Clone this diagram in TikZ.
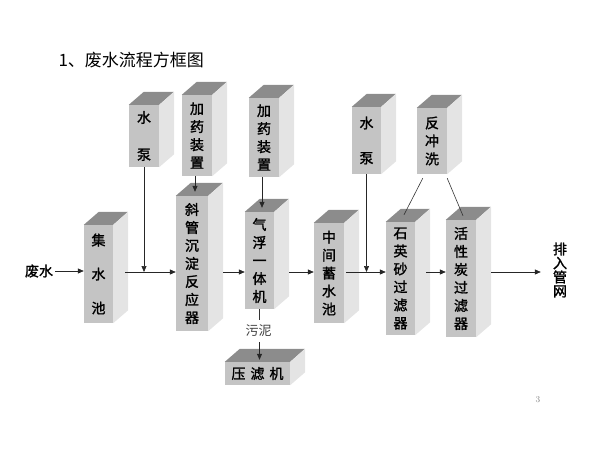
\documentclass[tikz,border=0pt]{standalone}
\usepackage{fontspec}
\newfontfamily\cjk{Noto Sans CJK SC}
\newfontfamily\cjkb{Noto Sans CJK SC}[FakeBold=1.5]
\usetikzlibrary{arrows.meta,calc}

\definecolor{frontc}{RGB}{196,196,196}
\definecolor{topc}{RGB}{140,140,140}
\definecolor{sidec}{RGB}{228,228,228}

\tikzset{
  face/.style={fill=frontc, inner sep=0pt, align=center, font=\cjkb\fontsize{14}{18}\selectfont},
  arr/.style={-{Triangle[length=6pt,width=5pt]}, line width=0.7pt, draw=black!85},
  link/.style={line width=0.6pt, draw=black!80},
}

% box: name, x, y, width, height, text
\newcommand{\blockbox}[6]{%
  \node[face, minimum width=#4pt, minimum height=#5pt] (#1) at (#2,#3) {#6};
  \fill[topc] (#1.north west) -- ++(15,-13) -- ++(#4,0) -- (#1.north east) -- cycle;
  \fill[sidec] (#1.north east) -- ++(15,-13) -- ($(#1.south east)+(15,-13)$) -- (#1.south east) -- cycle;
}

\begin{document}
\begin{tikzpicture}[x=1pt,y=-1pt]
\useasboundingbox (0,0) rectangle (600,450);
\node[font=\cjk\fontsize{17}{20}\selectfont, anchor=west] (title) at (55,60) {1、废水流程方框图};

% boxes
\blockbox{pool}{98.5}{274}{29}{98}{集\\[16pt]水\\[16pt]池}
\blockbox{pumpA}{144}{136}{30}{62}{水\\[19pt]泵}
\blockbox{doseA}{197}{135.5}{30}{81}{加\\药\\装\\置}
\blockbox{tank}{192}{263.5}{32}{135}{斜\\管\\沉\\淀\\反\\应\\器}
\blockbox{doseB}{264}{137.5}{30}{79}{加\\药\\装\\置}
\blockbox{float}{259.5}{260.5}{29}{97}{气\\浮\\一\\体\\机}
\blockbox{press}{257.5}{373.5}{65}{23}{压\hspace{5pt}滤\hspace{5pt}机}
\blockbox{mid}{329}{273}{30}{100}{中\\间\\蓄\\水\\池}
\blockbox{pumpB}{366.5}{140.5}{29}{67}{水\\[17pt]泵}
\blockbox{sand}{400.5}{278.5}{29}{113}{石\\英\\砂\\过\\滤\\器}
\blockbox{back}{432}{141}{30}{66}{反\\冲\\洗}
\blockbox{carbon}{461}{278.5}{30}{117}{活\\性\\炭\\过\\滤\\器}

% texts
\node[font=\cjkb\fontsize{14}{18}\selectfont, inner sep=0pt] (ww) at (39,271) {废水};
\node[font=\cjk\fontsize{13}{16}\selectfont, text=black!75, inner sep=5pt] (mud) at (258.5,331) {污泥};
\node[font=\cjkb\fontsize{14}{14}\selectfont, align=center, inner sep=0pt] (out) at (560,270) {排\\入\\管\\网};
\node[font=\fontsize{9}{10}\selectfont, text=black!50] (pg) at (538,400) {3};
\coordinate (flow) at (0,272);

% connectors
\draw[arr] ($(ww.east)+(2,0)$) -- (ww.east -| pool.west);
\draw[arr] ($(pool.east |- flow)+(12,0)$) -- (tank.west |- flow);
\draw[arr] (pumpA.south) -- (pumpA.south |- flow);
\draw[arr] ($(doseA.south)+(-2,0)$) -- ($(doseA.south |- tank.north)+(-2,-4)$);
\draw[arr] ($(tank.east |- flow)+(15,0)$) -- (float.west |- flow);
\draw[arr] ($(doseB.south)+(-2,0)$) -- ($(doseB.south |- float.north)+(-2,-4)$);
\draw[arr] ($(float.east |- flow)+(15,0)$) -- (mid.west |- flow);
\draw[link] (float.south) -- (float.south |- mud.north);
\draw[arr] (float.south |- mud.south) -- ($(float.south |- press.north)+(0,-2)$);
\draw[arr] ($(mid.east |- flow)+(2,0)$) -- (sand.west |- flow);
\draw[arr] (pumpB.south) -- (pumpB.south |- flow);
\draw[arr] ($(sand.east |- flow)+(11,0)$) -- (carbon.west |- flow);
\draw[link] ($(back.south west)+(6,4)$) -- ($(sand.north)+(3.5,-7)$);
\draw[link] ($(back.south east)+(0,4)$) -- ($(carbon.north)+(2,-4)$);
\draw[arr] ($(carbon.east |- flow)+(15,0)$) -- ($(out.west |- flow)+(-12,0)$);
\end{tikzpicture}
\end{document}
